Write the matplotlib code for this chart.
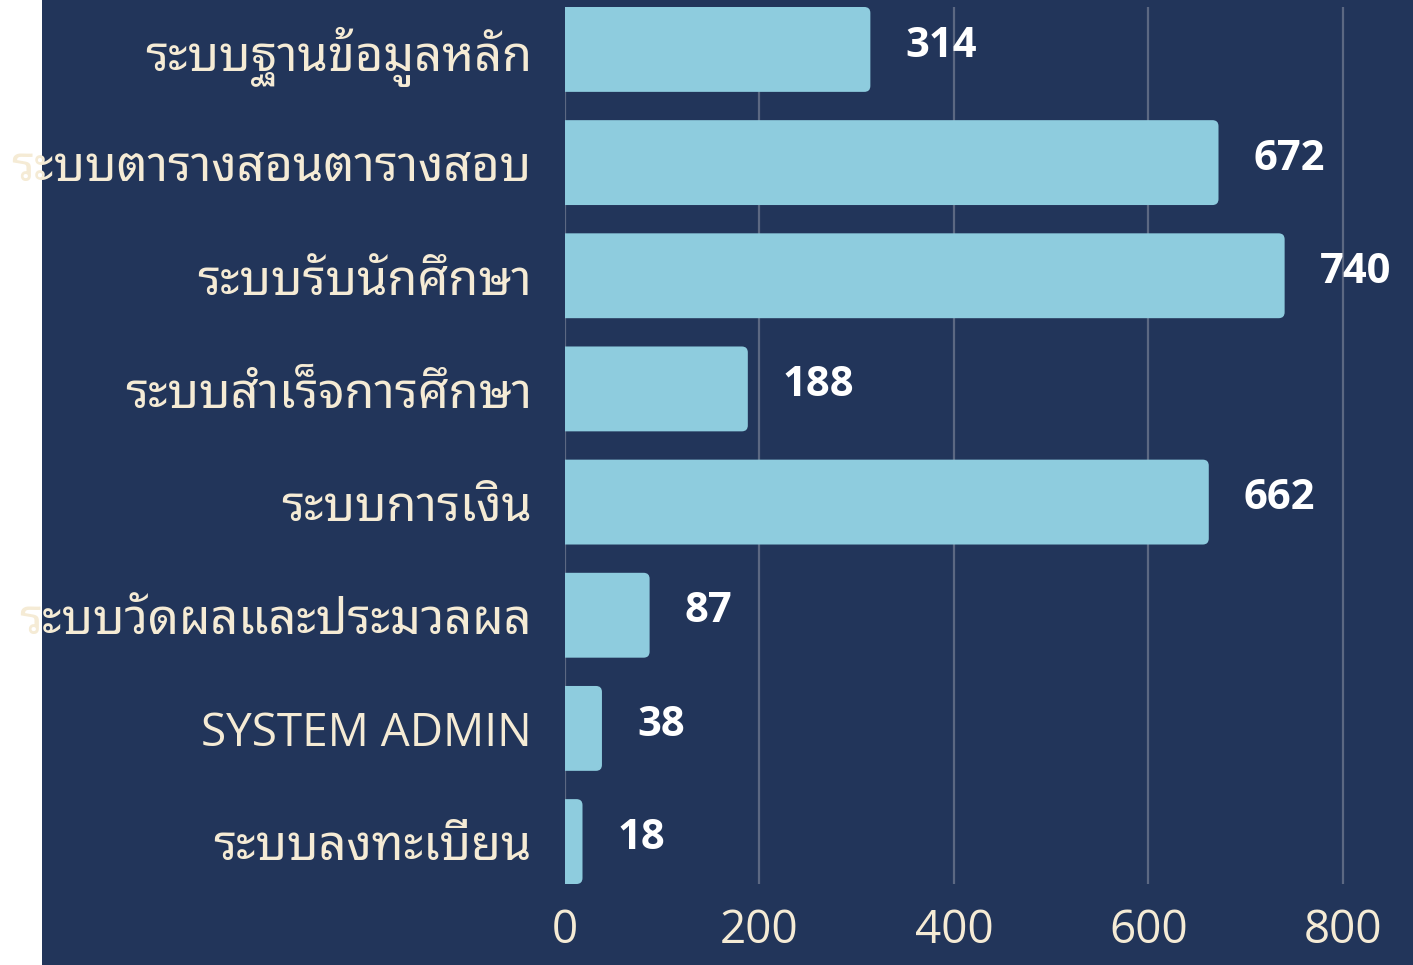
import matplotlib
matplotlib.use("Agg")
import matplotlib.pyplot as plt
from matplotlib.patches import FancyBboxPatch, Rectangle

# data
systems = ["ระบบฐานข้อมูลหลัก", "ระบบตารางสอนตารางสอบ", "ระบบรับนักศึกษา",
           "ระบบสำเร็จการศึกษา", "ระบบการเงิน", "ระบบวัดผลและประมวลผล",
           "SYSTEM ADMIN", "ระบบลงทะเบียน"]
counts = [314, 672, 740, 188, 662, 87, 38, 18]
xticks = [0, 200, 400, 600, 800]

navy = "#22355A"
bar_c = "#8ECCDE"
cream = "#F5EBD5"
fonts = ["Open Sans", "Noto Sans Thai Looped", "DejaVu Sans"]
plt.rcParams["font.family"] = fonts

fig = plt.figure(figsize=(14.13, 9.65), dpi=100, facecolor="white")
fig.patches.append(Rectangle((42 / 1413, 0), 1, 1, transform=fig.transFigure,
                             facecolor=navy, edgecolor="none", zorder=-10))
ax = fig.add_axes([565 / 1413, 81 / 965, 1 - 565 / 1413, 877 / 965])
ax.set_facecolor(navy)

ypos = list(range(len(counts)))
xmax = 872
ax.set_xlim(0, xmax)
ax.set_ylim(len(counts) - 1 + 0.375, -0.375)

# rounded bars (radius ~6px)
px_x = 848 / xmax
px_y = 877 / (len(counts) - 1 + 0.75)
r = 6 / px_x
asp = (6 / px_y) / r
h = 0.75
for y, v in zip(ypos, counts):
    p = FancyBboxPatch((-r * 2, y - h / 2), v + r * 2, h,
                       boxstyle=f"round,pad=0,rounding_size={r}",
                       mutation_aspect=asp, facecolor=bar_c, edgecolor="none",
                       zorder=3)
    ax.add_patch(p)
    ax.text(v + 36, y - 0.03, str(v), color="white", fontsize=30,
            fontweight="bold", va="center", ha="left", zorder=4)

ax.set_xticks(xticks)
ax.set_yticks(ypos)
ax.set_yticklabels(systems)
ax.tick_params(axis="y", length=0, pad=24, labelsize=33, labelcolor=cream)
ax.tick_params(axis="x", length=0, pad=17, labelsize=33, labelcolor=cream)
for lbl in ax.get_yticklabels():
    if not lbl.get_text().isascii():
        lbl.set_fontsize(35)
ax.grid(axis="x", color="#5C6882", linewidth=1.6, zorder=0)
ax.set_axisbelow(True)
for s in ax.spines.values():
    s.set_visible(False)

fig.savefig("out.png", dpi=100, facecolor="white")
